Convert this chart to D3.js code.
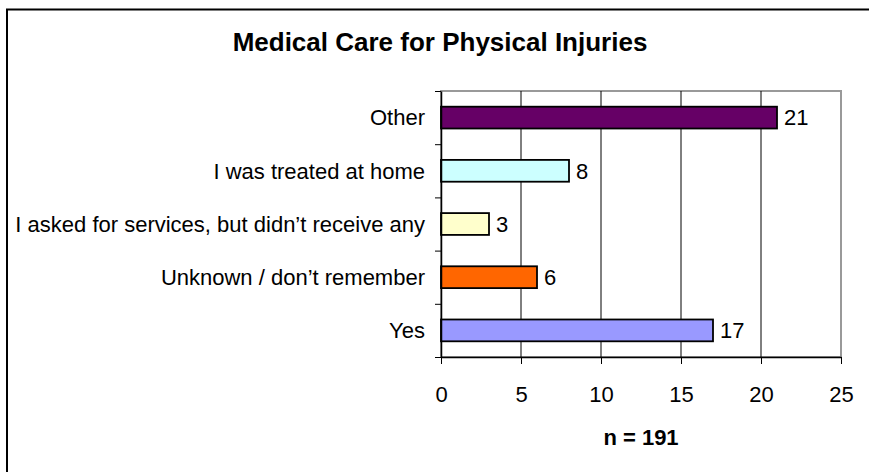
<!DOCTYPE html>
<html>
<head>
<meta charset="utf-8">
<script src="https://cdn.jsdelivr.net/npm/d3@7"></script>
<style>
  body { margin: 0; background: #fff; overflow: hidden; }
  svg { display: block; }
  text { font-family: Arial, "Liberation Sans", sans-serif; }
</style>
</head>
<body>
<div id="chart"></div>
<script>
// data (top to bottom)
var categories = ["Other", "I was treated at home", "I asked for services, but didn\u2019t receive any", "Unknown / don\u2019t remember", "Yes"];
var counts = [21, 8, 3, 6, 17];
var barColors = ["#660066", "#CCFFFF", "#FFFFCC", "#FF6600", "#9999FF"];
var xTicks = [0, 5, 10, 15, 20, 25];
var chartTitle = "Medical Care for Physical Injuries";
var sampleNote = "n = 191";

var width = 869, height = 472;
var plot = {left: 441, right: 841, top: 91, bottom: 357};

var svg = d3.select("#chart").append("svg")
  .attr("width", width)
  .attr("height", height);

// outer chart frame (cut off at right and bottom)
svg.append("rect")
  .attr("x", 7).attr("y", 9.5)
  .attr("width", 900).attr("height", 500)
  .attr("fill", "#fff")
  .attr("stroke", "#000")
  .attr("stroke-width", 2);

var x = d3.scaleLinear().domain([0, 25]).range([plot.left, plot.right]);
var y = d3.scaleBand().domain(categories).range([plot.top, plot.bottom])
  .paddingInner(0.59).paddingOuter(0.295);

// plot area border (grey)
svg.append("rect")
  .attr("x", plot.left).attr("y", plot.top)
  .attr("width", plot.right - plot.left).attr("height", plot.bottom - plot.top)
  .attr("fill", "none")
  .attr("stroke", "#999")
  .attr("stroke-width", 2);

// vertical gridlines
svg.selectAll(".grid")
  .data(xTicks.filter(d => d > 0 && d < 25))
  .enter().append("line")
  .attr("x1", d => x(d)).attr("x2", d => x(d))
  .attr("y1", plot.top).attr("y2", plot.bottom)
  .attr("stroke", "#000")
  .attr("stroke-width", 1);

// bars
svg.selectAll(".bar")
  .data(counts)
  .enter().append("rect")
  .attr("x", x(0))
  .attr("y", (d, i) => y(categories[i]))
  .attr("width", d => x(d) - x(0))
  .attr("height", y.bandwidth())
  .attr("fill", (d, i) => barColors[i])
  .attr("stroke", "#000")
  .attr("stroke-width", 1.8);

// value labels
svg.selectAll(".val")
  .data(counts)
  .enter().append("text")
  .attr("x", d => x(d) + 7)
  .attr("y", (d, i) => y(categories[i]) + y.bandwidth() / 2)
  .attr("dy", "0.35em")
  .attr("font-size", 22)
  .text(d => d);

// category axis: ticks on band boundaries
var yEdge = d3.scaleLinear().domain([0, categories.length]).range([plot.top, plot.bottom]);
var yAxis = svg.append("g")
  .attr("transform", "translate(" + plot.left + ",0)")
  .call(d3.axisLeft(yEdge).ticks(categories.length).tickFormat("").tickSize(6).tickSizeOuter(0));
yAxis.selectAll("line").attr("stroke", "#000");
yAxis.select(".domain").attr("stroke", "#000").attr("stroke-width", 1.5);

// category labels
svg.selectAll(".cat")
  .data(categories)
  .enter().append("text")
  .attr("x", 425)
  .attr("y", d => y(d) + y.bandwidth() / 2)
  .attr("dy", "0.35em")
  .attr("text-anchor", "end")
  .attr("font-size", 22)
  .text(d => d);

// value axis
var xAxis = svg.append("g")
  .attr("transform", "translate(0," + plot.bottom + ")")
  .call(d3.axisBottom(x).tickValues(xTicks).tickSize(7).tickSizeOuter(0).tickPadding(22));
xAxis.select(".domain").attr("stroke", "#000").attr("stroke-width", 1.5);
xAxis.selectAll("line").attr("stroke", "#000");
xAxis.selectAll("text")
  .attr("font-size", 22)
  .attr("font-family", "Arial, 'Liberation Sans', sans-serif")
  .attr("fill", "#000");

// title
svg.append("text")
  .attr("x", 440).attr("y", 51)
  .attr("text-anchor", "middle")
  .attr("font-size", 26)
  .attr("font-weight", "bold")
  .text(chartTitle);

// sample size note, centred under the plot
svg.append("text")
  .attr("x", (plot.left + plot.right) / 2).attr("y", 445)
  .attr("text-anchor", "middle")
  .attr("font-size", 22)
  .attr("font-weight", "bold")
  .text(sampleNote);
</script>
</body>
</html>
